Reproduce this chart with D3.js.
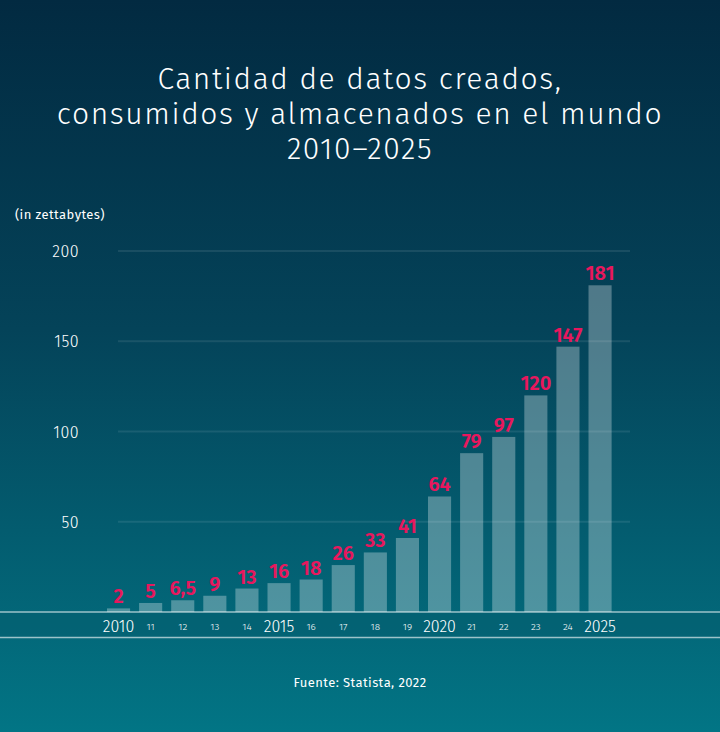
<!DOCTYPE html>
<html><head><meta charset="utf-8">
<script src="https://cdn.jsdelivr.net/npm/d3@7"></script>
<style>html,body{margin:0;padding:0;background:#013048;}svg{display:block;}</style>
</head><body>
<script>
const years = ["2010","2011","2012","2013","2014","2015","2016","2017","2018","2019","2020","2021","2022","2023","2024","2025"];
const yearLabels = ["2010","11","12","13","14","2015","16","17","18","19","2020","21","22","23","24","2025"];
// bar heights as drawn in the reference (the 2021 bar is drawn taller than its label)
const values = [2,5,6.5,9,13,16,18,26,33,41,64,88,97,120,147,181];
const valueLabels = ["2","5","6,5","9","13","16","18","26","33","41","64","79","97","120","147","181"];
const yTicks = [50,100,150,200];
const titleLines = ["Cantidad de datos creados,","consumidos y almacenados en el mundo","2010–2025"];

const W=720,H=732;
const svg=d3.select("body").append("svg").attr("width",W).attr("height",H);
const defs=svg.append("defs");
const g=defs.append("linearGradient").attr("id","bg").attr("x1",0).attr("y1",0).attr("x2",0).attr("y2",1);
g.append("stop").attr("offset","0%").attr("stop-color","#022a41");
g.append("stop").attr("offset","45%").attr("stop-color","#044359");
g.append("stop").attr("offset","100%").attr("stop-color","#027585");
svg.append("rect").attr("width",W).attr("height",H).attr("fill","url(#bg)");

const font="'Fira Sans','Noto Sans',sans-serif";
const tt=svg.append("g");
titleLines.forEach((t,i)=>{
  tt.append("text").attr("x",360).attr("y",89+i*35).attr("text-anchor","middle")
    .attr("fill","#fff").attr("font-family",font).attr("font-size",30).attr("font-weight",300)
    .attr("letter-spacing","1.6px").text(t);
});

const y=d3.scaleLinear().domain([0,200]).range([612,251]);
const x=d3.scaleBand().domain(years).range([98,620.6]).padding(0.28);

svg.append("g").selectAll("line").data(yTicks).join("line")
  .attr("x1",118).attr("x2",630).attr("y1",d=>y(d)).attr("y2",d=>y(d))
  .attr("stroke","#ffffff").attr("stroke-opacity",0.09).attr("stroke-width",2);

svg.append("g").selectAll("text").data(yTicks).join("text")
  .attr("x",79).attr("y",d=>y(d)+6).attr("text-anchor","end")
  .attr("fill","#fff").attr("font-family",font).attr("font-size",16).attr("font-weight",300)
  .attr("letter-spacing","0.5px").text(d=>d);
svg.append("text").attr("x",15).attr("y",219).attr("fill","#fff").attr("font-family",font)
  .attr("font-size",13).attr("letter-spacing","0.4px").text("(in zettabytes)");

svg.append("rect").attr("x",0).attr("y",612).attr("width",W).attr("height",25.5).attr("fill","#07596b").attr("opacity",0.35);
svg.append("line").attr("x1",0).attr("x2",W).attr("y1",612).attr("y2",612).attr("stroke","#9cc3ca").attr("stroke-width",1.5);
svg.append("line").attr("x1",0).attr("x2",W).attr("y1",637.5).attr("y2",637.5).attr("stroke","#9cc3ca").attr("stroke-width",1.5);

svg.append("g").selectAll("rect").data(values).join("rect")
  .attr("x",(d,i)=>x(years[i])).attr("width",x.bandwidth())
  .attr("y",d=>y(d)).attr("height",d=>y(0)-y(d))
  .attr("fill","#ffffff").attr("fill-opacity",0.3);

svg.append("g").selectAll("text").data(values).join("text")
  .attr("x",(d,i)=>x(years[i])+x.bandwidth()/2).attr("y",d=>y(d)-5)
  .attr("text-anchor","middle").attr("fill","#e8175d").attr("font-family",font)
  .attr("font-size",20).attr("font-weight",600).text((d,i)=>valueLabels[i]);

svg.append("g").selectAll("text").data(years).join("text")
  .attr("x",d=>x(d)+x.bandwidth()/2)
  .attr("y",(d,i)=>yearLabels[i].length===4?632:630)
  .attr("text-anchor","middle").attr("fill","#fff").attr("font-family",font)
  .attr("font-size",(d,i)=>yearLabels[i].length===4?16:10)
  .attr("font-weight",300).text((d,i)=>yearLabels[i]);

svg.append("text").attr("x",360).attr("y",687).attr("text-anchor","middle").attr("fill","#fff")
  .attr("font-family",font).attr("font-size",13).attr("letter-spacing","0.4px").text("Fuente: Statista, 2022");
</script>
</body></html>
